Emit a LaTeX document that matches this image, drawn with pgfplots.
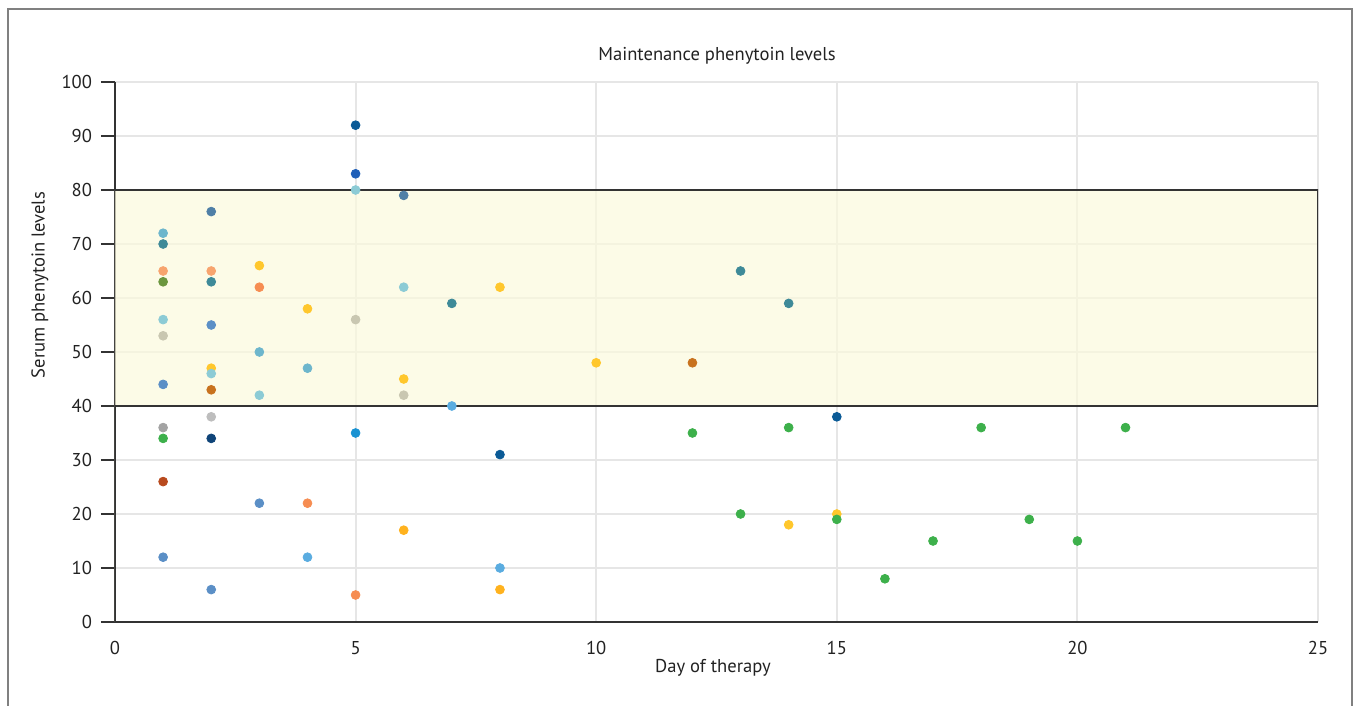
\documentclass[border=0pt]{standalone}
\usepackage{pgfplots}
\pgfplotsset{compat=1.18}
\usepackage{fontspec}
\setmainfont{PT Sans}
\definecolor{clteal}{HTML}{6DB6CC}
\definecolor{cdteal}{HTML}{3E8A98}
\definecolor{clorange}{HTML}{F7A46E}
\definecolor{corange}{HTML}{F68D52}
\definecolor{colive}{HTML}{6B963E}
\definecolor{cpteal}{HTML}{8CCBD5}
\definecolor{cbeige}{HTML}{C9C7B1}
\definecolor{cmblue}{HTML}{5B8FC6}
\definecolor{cgry}{HTML}{A3A3A3}
\definecolor{clgry}{HTML}{BDBDBD}
\definecolor{cgreen}{HTML}{3DB04B}
\definecolor{crust}{HTML}{B84A1E}
\definecolor{csteel}{HTML}{4F7FA6}
\definecolor{cyellow}{HTML}{FFC72C}
\definecolor{camber}{HTML}{FFB21E}
\definecolor{cbrown}{HTML}{C8721E}
\definecolor{cnavy}{HTML}{0F4478}
\definecolor{clblue}{HTML}{5AACE0}
\definecolor{cdblue}{HTML}{0A5A96}
\definecolor{crblue}{HTML}{1F5FB8}
\definecolor{ccblue}{HTML}{1A92D2}
\definecolor{band}{HTML}{FBF9DD}
\definecolor{txt}{HTML}{222222}
\definecolor{axc}{HTML}{333333}
\definecolor{frm}{HTML}{808080}
\definecolor{grd}{HTML}{E6E6E6}
\begin{document}
\begin{tikzpicture}
\useasboundingbox (0pt,0pt) rectangle (678pt,353pt);
\draw[frm, line width=0.75pt] (4pt,0pt) -- (4pt,348.5pt) -- (676pt,348.5pt) -- (676pt,0pt);
\begin{axis}[
  at={(57.5pt,42pt)}, anchor=south west,
  scale only axis, width=601.5pt, height=270pt,
  xmin=0, xmax=25, ymin=0, ymax=100,
  xtick={0,5,...,25}, ytick={0,10,...,100},
  axis x line=bottom, axis y line=left,
  axis line style={-, line width=1pt, color=axc},
  grid=major, grid style={color=grd, line width=1pt},
  major tick style={line width=1pt, color=axc},
  tick align=outside, major tick length=7pt,
  xtick style={draw=none},
  /pgf/number format/assume math mode=true,
  tick label style={font=\fontsize{9.3}{11}\selectfont, text=txt},
  xticklabel style={yshift=1pt},
  yticklabel style={xshift=-1pt},
  scatter/classes={
    lteal={mark=*,draw=clteal,fill=clteal},
    dteal={mark=*,draw=cdteal,fill=cdteal},
    lorange={mark=*,draw=clorange,fill=clorange},
    orange={mark=*,draw=corange,fill=corange},
    olive={mark=*,draw=colive,fill=colive},
    pteal={mark=*,draw=cpteal,fill=cpteal},
    beige={mark=*,draw=cbeige,fill=cbeige},
    mblue={mark=*,draw=cmblue,fill=cmblue},
    gry={mark=*,draw=cgry,fill=cgry},
    lgry={mark=*,draw=clgry,fill=clgry},
    green={mark=*,draw=cgreen,fill=cgreen},
    rust={mark=*,draw=crust,fill=crust},
    steel={mark=*,draw=csteel,fill=csteel},
    yellow={mark=*,draw=cyellow,fill=cyellow},
    amber={mark=*,draw=camber,fill=camber},
    brown={mark=*,draw=cbrown,fill=cbrown},
    navy={mark=*,draw=cnavy,fill=cnavy},
    lblue={mark=*,draw=clblue,fill=clblue},
    dblue={mark=*,draw=cdblue,fill=cdblue},
    rblue={mark=*,draw=crblue,fill=crblue},
    cblue={mark=*,draw=ccblue,fill=ccblue}},
]
\addplot[fill=band, fill opacity=0.7, draw=none] coordinates {(0,40) (25,40) (25,80) (0,80)} \closedcycle;
\addplot[line width=1pt, color=axc] coordinates {(0,80) (25,80) (25,40) (0,40)};
\addplot[only marks, scatter, scatter src=explicit symbolic, mark size=2.2pt]
table[meta=c] {
x y c
1 72 lteal
1 70 dteal
1 65 lorange
1 63 olive
1 56 pteal
1 53 beige
1 44 mblue
1 36 gry
1 34 green
1 26 rust
1 12 mblue
2 76 steel
2 65 lorange
2 63 dteal
2 55 mblue
2 47 yellow
2 46 pteal
2 43 brown
2 38 lgry
2 34 navy
2 6 mblue
3 66 yellow
3 62 orange
3 50 lteal
3 42 pteal
3 22 mblue
4 58 yellow
4 47 lteal
4 22 orange
4 12 lblue
5 92 dblue
5 83 rblue
5 80 pteal
5 56 beige
5 35 cblue
5 5 orange
6 79 steel
6 62 pteal
6 45 yellow
6 42 beige
6 17 amber
7 59 dteal
7 40 lblue
8 62 yellow
8 31 dblue
8 10 lblue
8 6 amber
10 48 yellow
12 48 brown
12 35 green
13 65 dteal
13 20 green
14 59 dteal
14 36 green
14 18 yellow
15 38 dblue
15 20 yellow
15 19 green
16 8 green
17 15 green
18 36 green
19 19 green
20 15 green
21 36 green
};
\end{axis}
\node[font=\fontsize{9.3}{11}\selectfont, text=txt] at (358.5pt,325pt) {Maintenance phenytoin levels};
\node[font=\fontsize{9.3}{11}\selectfont, text=txt] at (356.5pt,19pt) {Day of therapy};
\node[font=\fontsize{9.3}{11}\selectfont, text=txt, rotate=90] at (20pt,210.5pt) {Serum phenytoin levels};
\end{tikzpicture}
\end{document}
